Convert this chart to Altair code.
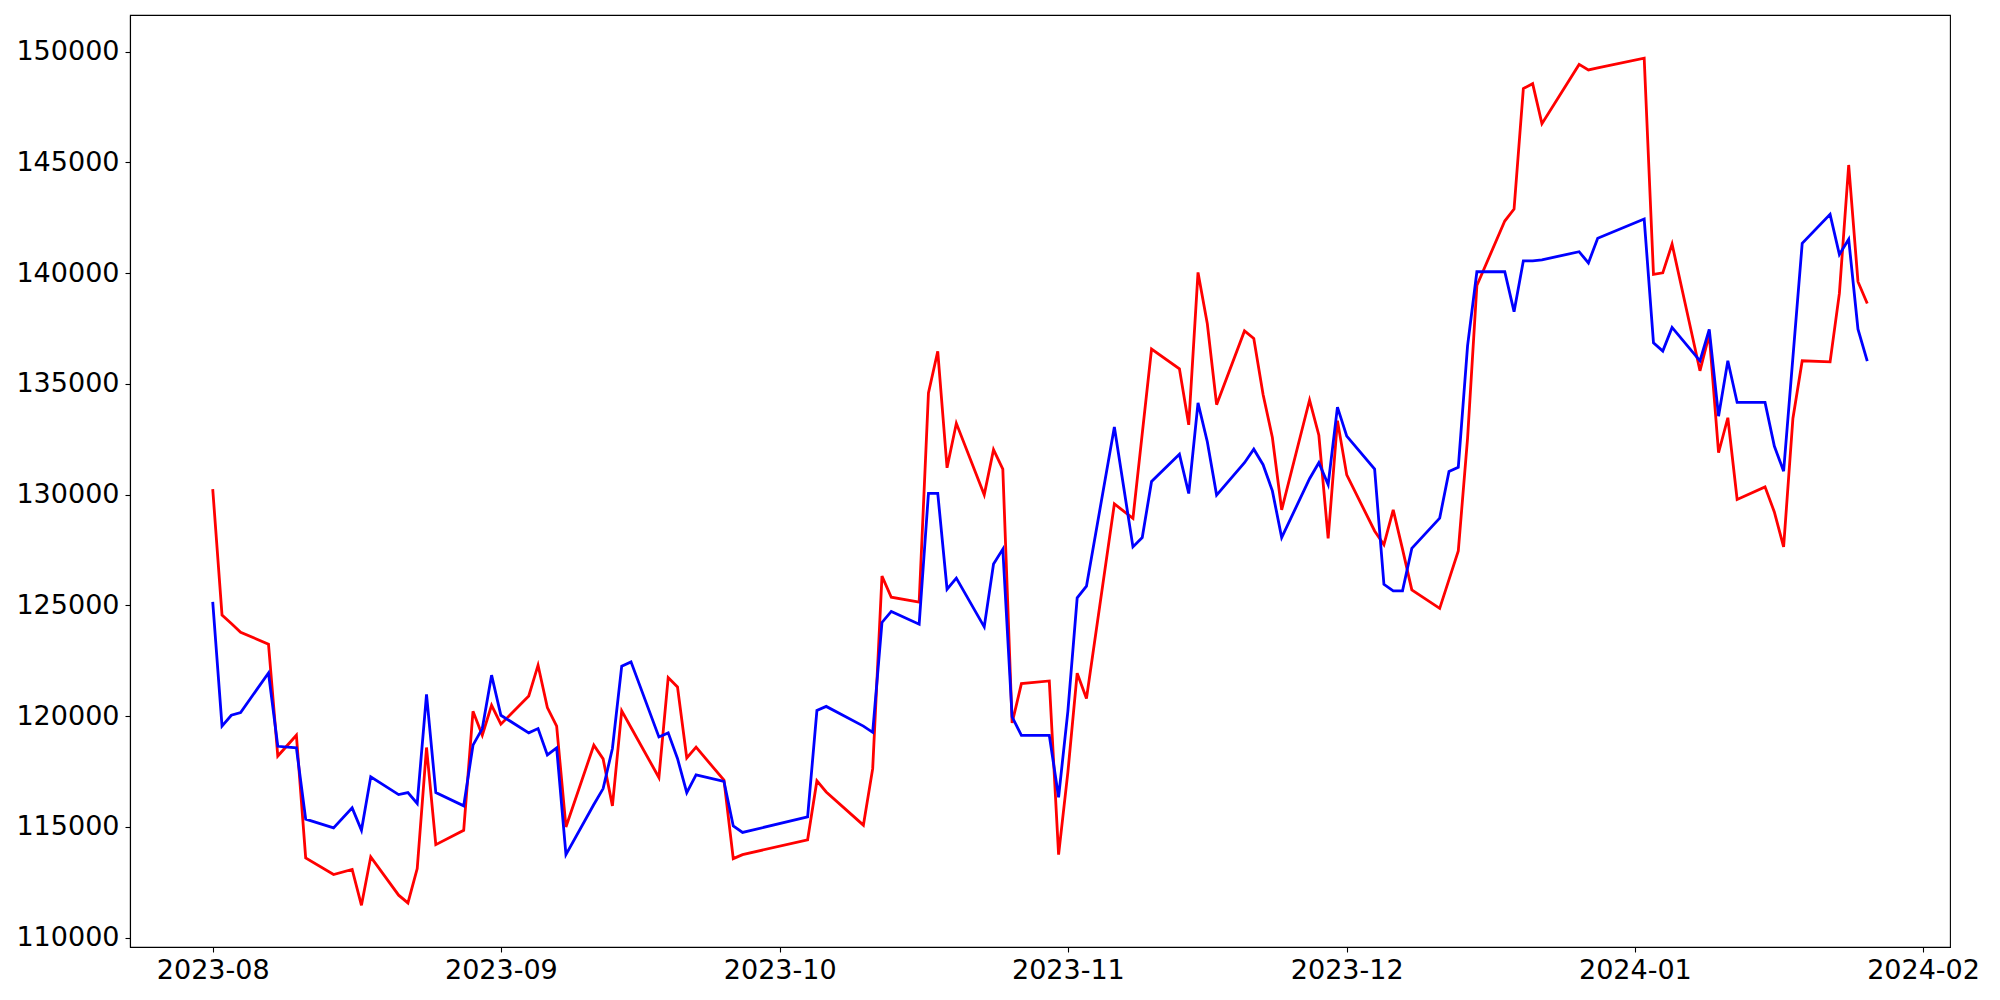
import altair as alt
import pandas as pd

dates = [
    "2023-08-01", "2023-08-02", "2023-08-03", "2023-08-04", "2023-08-07", "2023-08-08",
    "2023-08-10", "2023-08-11", "2023-08-14", "2023-08-16", "2023-08-17", "2023-08-18",
    "2023-08-21", "2023-08-22", "2023-08-23", "2023-08-24", "2023-08-25", "2023-08-28",
    "2023-08-29", "2023-08-30", "2023-08-31",
    "2023-09-01", "2023-09-04", "2023-09-05", "2023-09-06", "2023-09-07", "2023-09-08",
    "2023-09-11", "2023-09-12", "2023-09-13", "2023-09-14", "2023-09-15", "2023-09-18",
    "2023-09-19", "2023-09-20", "2023-09-21", "2023-09-22", "2023-09-25", "2023-09-26",
    "2023-09-27",
    "2023-10-04", "2023-10-05", "2023-10-06", "2023-10-10", "2023-10-11", "2023-10-12",
    "2023-10-13", "2023-10-16", "2023-10-17", "2023-10-18", "2023-10-19", "2023-10-20",
    "2023-10-23", "2023-10-24", "2023-10-25", "2023-10-26", "2023-10-27", "2023-10-30",
    "2023-10-31",
    "2023-11-01", "2023-11-02", "2023-11-03", "2023-11-06", "2023-11-08", "2023-11-09",
    "2023-11-10", "2023-11-13", "2023-11-14", "2023-11-15", "2023-11-16", "2023-11-17",
    "2023-11-20", "2023-11-21", "2023-11-22", "2023-11-23", "2023-11-24", "2023-11-27",
    "2023-11-28", "2023-11-29", "2023-11-30",
    "2023-12-01", "2023-12-04", "2023-12-05", "2023-12-06", "2023-12-07", "2023-12-08",
    "2023-12-11", "2023-12-12", "2023-12-13", "2023-12-14", "2023-12-15", "2023-12-18",
    "2023-12-19", "2023-12-20", "2023-12-21", "2023-12-22", "2023-12-26", "2023-12-27",
    "2023-12-28",
    "2024-01-02", "2024-01-03", "2024-01-04", "2024-01-05", "2024-01-08", "2024-01-09",
    "2024-01-10", "2024-01-11", "2024-01-12", "2024-01-15", "2024-01-16", "2024-01-17",
    "2024-01-18", "2024-01-19", "2024-01-22", "2024-01-23", "2024-01-24", "2024-01-25",
    "2024-01-26",
]

red_values = [
    130250, 124560, 124180, 123790, 123250, 118200,
    119140, 113600, 112850, 113080, 111460, 113650,
    111920, 111570, 113120, 118585, 114200, 114850,
    120220, 119140, 120490,
    119640, 120915, 122300, 120390, 119550, 115000,
    118690, 118070, 115950, 120240, 119490, 117230,
    121745, 121320, 118115, 118600, 117110, 113570,
    113750,
    114420, 117080, 116580, 115080, 117630, 126320,
    125370, 125150, 134590, 136470, 131210, 133220,
    129990, 132030, 131150, 119690, 121470, 121590,
    113750,
    117470, 121940, 120800, 129580, 128930, 132750,
    136570, 135680, 133150, 140030, 137710, 134060,
    137390, 137050, 134520, 132580, 129310, 134270,
    132680, 128020, 133340,
    130890, 128360, 127740, 129310, 127540, 125700,
    124865, 126165, 127460, 132550, 139440, 142350,
    142890, 148330, 148550, 146745, 149420, 149170,
    149260,
    149700, 139940, 140010, 141310, 135590, 137230,
    131890, 133470, 129780, 130350, 129220, 127640,
    133440, 136040, 135995, 139080, 144880, 139610,
    138630,
]

blue_values = [
    125160, 119550, 120040, 120165, 121950, 118640,
    118570, 115350, 114955, 115860, 114850, 117260,
    116460, 116550, 116060, 120980, 116550, 115950,
    118690, 119440, 121850,
    120040, 119245, 119440, 118250, 118570, 113750,
    116010, 116730, 118540, 122255, 122450, 119060,
    119245, 118090, 116550, 117350, 117060, 115045,
    114750,
    115455, 120260, 120440, 119550, 119270, 124230,
    124730, 124150, 130060, 130060, 125730, 126230,
    124030, 126870, 127540, 119970, 119135, 119135,
    116340,
    120230, 125340, 125870, 133055, 127640, 128060,
    130590, 131820, 130050, 134140, 132390, 129980,
    131440, 132050, 131350, 130170, 128060, 130720,
    131440, 130450, 133950,
    132640, 131150, 125950, 125655, 125655, 127575,
    128940, 131040, 131235, 136730, 140060, 140060,
    138260, 140555, 140555, 140600, 140965, 140460,
    141575,
    142440, 136850, 136480, 137550, 136040, 137460,
    133540, 136040, 134160, 134160, 132190, 131060,
    136200, 141340, 142650, 140840, 141530, 137470,
    136030,
]

y_ticks = [110000, 115000, 120000, 125000, 130000, 135000, 140000, 145000, 150000]
x_tick_months = [(2023, 8), (2023, 9), (2023, 10), (2023, 11), (2023, 12), (2024, 1), (2024, 2)]

df = pd.DataFrame({"date": dates, "red": red_values, "blue": blue_values})

x_ticks = [alt.DateTime(year=y, month=m, date=1, utc=True) for y, m in x_tick_months]
x_domain = [
    alt.DateTime(year=2023, month=7, date=23, hours=2, minutes=24, utc=True),
    alt.DateTime(year=2024, month=2, date=3, hours=21, minutes=36, utc=True),
]

x_enc = alt.X(
    "date:T",
    scale=alt.Scale(type="utc", domain=x_domain),
    axis=alt.Axis(values=x_ticks, format="%Y-%m", title=None, labelPadding=5,
                  labelFlush=False, labelOverlap=False, grid=False),
)

y_scale = alt.Scale(domain=[109580, 151650], nice=False, zero=False)
y_axis = alt.Axis(values=y_ticks, format="d", title=None, labelPadding=6, grid=False)

base = alt.Chart(df)
red_line = base.mark_line(color="#ff0000", strokeWidth=2.8).encode(
    x=x_enc, y=alt.Y("red:Q", scale=y_scale, axis=y_axis)
)
blue_line = base.mark_line(color="#0000ff", strokeWidth=2.8).encode(
    x=x_enc, y=alt.Y("blue:Q", scale=y_scale, axis=y_axis)
)

chart = (
    alt.layer(red_line, blue_line)
    .properties(
        width=1820,
        height=932,
        autosize=alt.AutoSizeParams(type="none"),
        padding={"left": 122, "top": 7, "right": 30, "bottom": 45},
        background="white",
    )
    .configure_axis(
        labelFont="DejaVu Sans",
        labelFontSize=27,
        labelColor="black",
        tickColor="black",
        tickSize=5,
        tickWidth=1.1,
        domainColor="black",
        domainWidth=1.1,
        grid=False,
    )
    .configure_view(stroke="black", strokeWidth=1.1)
)

chart.save("out.html", embed_options={"renderer": "svg", "actions": False})
